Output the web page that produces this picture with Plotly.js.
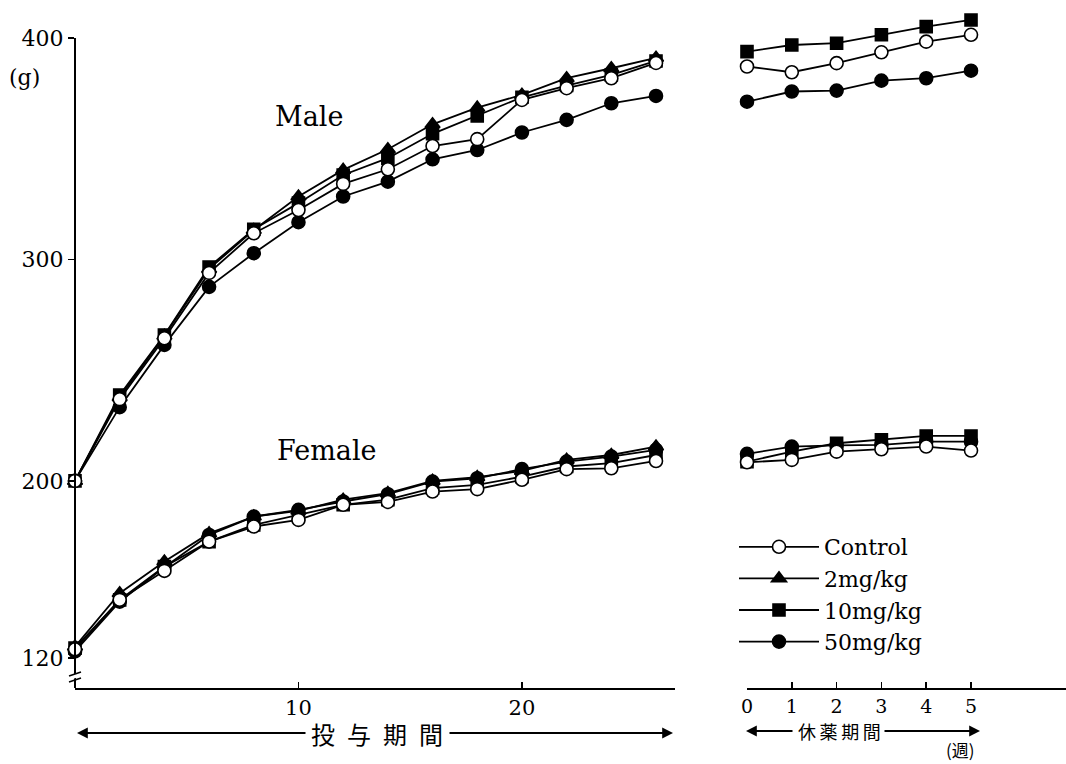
<!DOCTYPE html>
<html>
<head>
<meta charset="utf-8">
<script src="https://cdn.plot.ly/plotly-3.0.1.min.js"></script>
<style>html,body{margin:0;padding:0;background:#fff;}#chart{width:1066px;height:764px;}</style>
</head>
<body>
<div id="chart"></div>
<script>
// ---- data ----
const doseWeeks = [0, 2, 4, 6, 8, 10, 12, 14, 16, 18, 20, 22, 24, 26];
const recWeeks = [0, 1, 2, 3, 4, 5];
const groups = ["Control", "2mg/kg", "10mg/kg", "50mg/kg"];

const maleControl = [200, 236.9, 264.4, 293.9, 311.8, 322.3, 334.1, 340.7, 351.2, 354.3, 372.0, 377.3, 381.8, 388.7];
const male2mg     = [200, 237.8, 265.5, 295.7, 313.3, 328.4, 340.4, 349.7, 361.0, 368.5, 374.3, 381.8, 386.3, 391.0];
const male10mg    = [200, 238.8, 265.9, 296.6, 313.6, 325.4, 338.1, 345.7, 356.7, 364.8, 373.2, 378.5, 383.3, 389.6];
const male50mg    = [200, 233.3, 261.4, 287.6, 302.8, 316.8, 328.4, 335.1, 345.2, 349.4, 357.3, 363.0, 370.5, 373.8];

const femaleControl = [124.0, 146.3, 159.4, 172.6, 179.4, 182.4, 189.2, 190.5, 195.2, 196.3, 200.5, 205.3, 205.7, 209.0];
const female2mg     = [125.2, 149.3, 163.6, 176.3, 183.9, 186.5, 191.5, 194.5, 200.0, 201.7, 204.5, 209.5, 211.7, 215.5];
const female10mg    = [124.5, 146.3, 161.3, 172.6, 180.1, 184.7, 189.2, 191.5, 196.7, 198.2, 201.9, 206.5, 208.0, 211.7];
const female50mg    = [123.0, 145.5, 161.0, 175.6, 183.9, 186.9, 190.7, 194.0, 199.7, 201.2, 205.3, 208.7, 211.0, 214.0];

const recMaleControl = [387.1, 384.5, 388.6, 393.5, 398.3, 401.4];
const recMale10mg    = [393.8, 396.8, 397.6, 401.4, 405.1, 408.1];
const recMale50mg    = [371.2, 375.8, 376.2, 380.7, 381.8, 385.2];

const recFemaleControl = [208.4, 209.5, 213.2, 214.3, 215.5, 213.7];
const recFemale10mg    = [208.7, 213.2, 217.0, 218.5, 220.3, 220.3];
const recFemale50mg    = [212.2, 215.5, 216.0, 216.3, 217.7, 217.7];

const yTicks = [120, 200, 300, 400];
const xTicksDose = [10, 20];
const xTicksRec = [0, 1, 2, 3, 4, 5];

// ---- geometry helpers (pixel -> paper) ----
const W = 1066, H = 764, ML = 75, MR = 0, MT = 10, MB = 76;
const PW = W - ML - MR, PH = H - MT - MB;
const px = v => (v - ML) / PW;
const py = v => (H - MB - v) / PH;

const serif = "DejaVu Serif, Liberation Serif, serif";
const cjk = "Noto Sans CJK JP, sans-serif";

const styles = {
  "Control": {symbol: "circle", color: "#ffffff", size: 13},
  "2mg/kg":  {symbol: "triangle-up", color: "#000000", size: 13},
  "10mg/kg": {symbol: "square", color: "#000000", size: 12},
  "50mg/kg": {symbol: "circle", color: "#000000", size: 13}
};

function tr(name, x, y, xaxis, show) {
  const s = styles[name];
  return {
    type: "scatter", mode: "lines+markers", x: x, y: y, xaxis: xaxis, yaxis: "y",
    name: name, legendgroup: name, showlegend: show, cliponaxis: false,
    line: {color: "#000", width: 1.8},
    marker: {symbol: s.symbol, size: s.size, color: s.color, line: {color: "#000", width: 1.6}}
  };
}

const traces = [
  tr("50mg/kg", doseWeeks, male50mg, "x", false),
  tr("50mg/kg", doseWeeks, female50mg, "x", false),
  tr("50mg/kg", recWeeks, recMale50mg, "x2", false),
  tr("50mg/kg", recWeeks, recFemale50mg, "x2", false),
  tr("10mg/kg", doseWeeks, male10mg, "x", false),
  tr("10mg/kg", doseWeeks, female10mg, "x", false),
  tr("10mg/kg", recWeeks, recMale10mg, "x2", false),
  tr("10mg/kg", recWeeks, recFemale10mg, "x2", false),
  tr("2mg/kg", doseWeeks, male2mg, "x", false),
  tr("2mg/kg", doseWeeks, female2mg, "x", false),
  tr("Control", doseWeeks, maleControl, "x", false),
  tr("Control", doseWeeks, femaleControl, "x", false),
  tr("Control", recWeeks, recMaleControl, "x2", false),
  tr("Control", recWeeks, recFemaleControl, "x2", false)
];
// legend entries in reference order
groups.forEach(g => { traces.push(tr(g, [null], [null], "x", true)); });

function txt(t, x, y, size, fam) {
  return {text: t, x: px(x), y: py(y), xref: "paper", yref: "paper", xanchor: "center", yanchor: "middle",
          showarrow: false, font: {family: fam || serif, size: size, color: "#000"}};
}
function arrow(xHead, y, dx) {
  return {text: "", x: px(xHead), y: py(y), xref: "paper", yref: "paper", showarrow: true,
          ax: dx, ay: 0, axref: "pixel", ayref: "pixel", arrowhead: 2, arrowsize: 1.2, arrowwidth: 1.8, arrowcolor: "#000"};
}

const ann = [
  txt("Male", 309, 117, 27),
  txt("Female", 327, 450, 27),
  txt("(g)", 24, 78, 22),
  txt("投\u2002与\u2002期\u2002間", 377, 733, 24, cjk),
  txt("休\u2009薬\u2009期\u2009間", 839, 731, 18, cjk),
  txt("(週)", 960, 749, 17, cjk),
  arrow(77, 733, 230),
  arrow(673, 733, -225),
  arrow(746, 731, 48),
  arrow(980, 731, -97)
];

const shapes = [
  // y axis line (from bottom up to 400)
  {type: "line", xref: "paper", yref: "y", x0: 0, x1: 0, y0: 106.5, y1: 400, line: {color: "#000", width: 2}},
  // axis break marks
  {type: "line", xref: "paper", yref: "paper", x0: px(69), x1: px(81), y0: py(678), y1: py(674), line: {color: "#fff", width: 4}},
  {type: "line", xref: "paper", yref: "paper", x0: px(69), x1: px(81), y0: py(676), y1: py(672), line: {color: "#000", width: 1.5}},
  {type: "line", xref: "paper", yref: "paper", x0: px(69), x1: px(81), y0: py(682), y1: py(678), line: {color: "#000", width: 1.5}}
];

const layout = {
  width: W, height: H,
  margin: {l: ML, r: MR, t: MT, b: MB},
  paper_bgcolor: "#fff", plot_bgcolor: "#fff",
  font: {family: serif, color: "#000", size: 22},
  showlegend: true,
  legend: {x: px(734), y: py(526), xanchor: "left", yanchor: "top", bgcolor: "rgba(0,0,0,0)",
           font: {family: serif, size: 22, color: "#000"}, itemwidth: 80, tracegroupgap: 0},
  xaxis: {domain: [0, px(675)], range: [0, 26.85], anchor: "y", tickvals: xTicksDose, ticks: "inside", ticklen: 6, tickwidth: 1.5, tickcolor: "#000",
          showline: true, linewidth: 2, linecolor: "#000", showgrid: false, zeroline: false, tickfont: {family: serif, size: 21}},
  xaxis2: {domain: [px(747), 1], range: [0, 7.12], anchor: "y", tickvals: xTicksRec, ticks: "inside", ticklen: 6, tickwidth: 1.5, tickcolor: "#000",
           showline: true, linewidth: 2, linecolor: "#000", showgrid: false, zeroline: false, tickfont: {family: serif, size: 19}},
  yaxis: {range: [106.5, 412.6], tickvals: yTicks, ticks: "outside", ticklen: 6, tickwidth: 1.5, tickcolor: "#000",
          showline: false, showgrid: false, zeroline: false, tickfont: {family: serif, size: 22}},
  annotations: ann,
  shapes: shapes
};

Plotly.newPlot("chart", traces, layout, {displayModeBar: false, staticPlot: true});
</script>
</body>
</html>
